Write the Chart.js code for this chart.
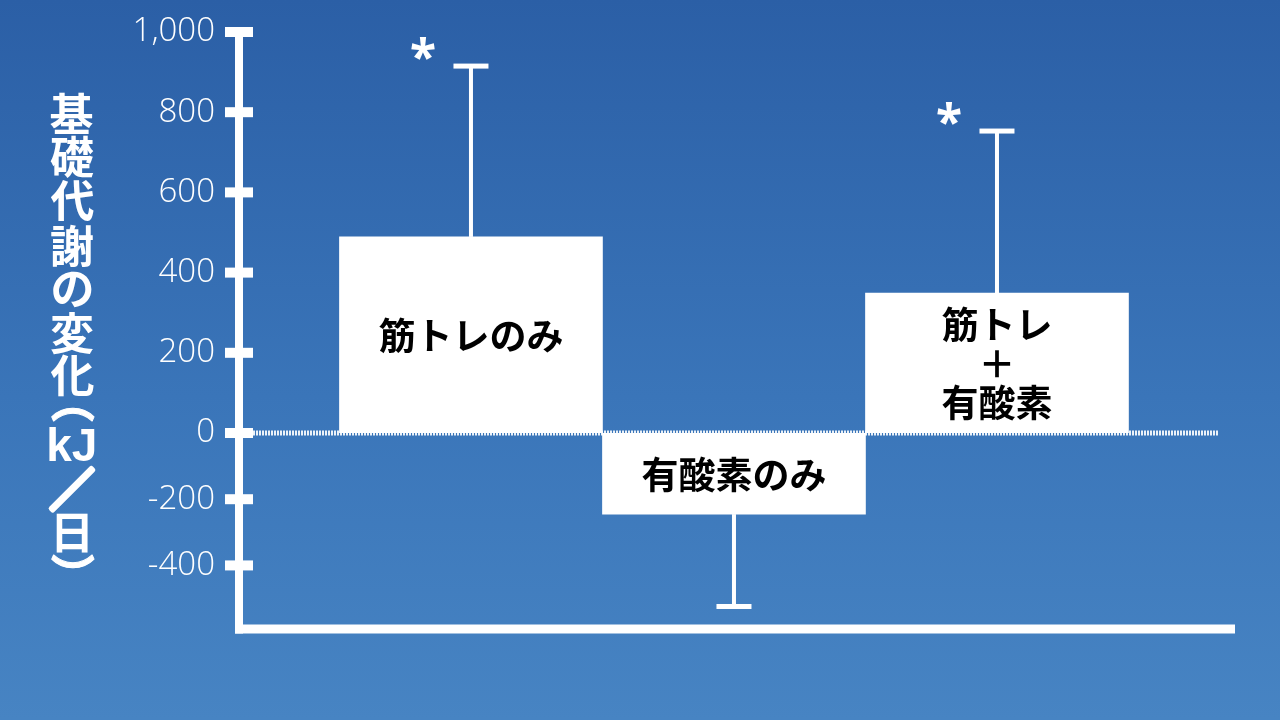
<!DOCTYPE html>
<html lang="ja">
<head>
<meta charset="utf-8">
<script src="https://cdn.jsdelivr.net/npm/chart.js@4/dist/chart.umd.min.js"></script>
<style>
  html, body { margin: 0; padding: 0; }
  body {
    width: 1280px; height: 720px; overflow: hidden;
    background: linear-gradient(180deg, #2b5fa6 0%, #3a75b9 55%, #4784c3 100%);
  }
  #wrap { position: absolute; left: 0; top: 0; width: 1280px; height: 720px; }
</style>
</head>
<body>
<div id="wrap"><canvas id="c" width="1280" height="720"></canvas></div>
<script>
// ---- data ----
const categories = ['筋トレのみ', '有酸素のみ', '筋トレ＋有酸素'];
const categoryLabelLines = [['筋トレのみ'], ['有酸素のみ'], ['筋トレ', '＋', '有酸素']];
const values = [489, -245, 349];
const errorEnds = [915, -524, 753];
const significant = [true, false, true];
const positiveTicks = [0, 200, 400, 600, 800, 1000];
const negativeTicks = [-200, -400];
const titleParts = ['基', '礎', '代', '謝', 'の', '変', '化', '（', 'kJ', '／', '日', '）'];

// ---- build datasets ----
const posData = [], negData = [];
values.forEach((v, i) => {
  if (v >= 0) posData.push({ x: i + 1, y: v });
  else negData.push({ x: i + 1, y: v });
});

const WHITE = '#ffffff';
const tickFont = { family: '"Open Sans", "Noto Sans", sans-serif', size: 33, weight: '300' };

function drawCentered(ctx, text, cx, cy, rotate, stroke) {
  ctx.save();
  ctx.translate(cx, cy);
  if (rotate) ctx.rotate(Math.PI / 2);
  ctx.textAlign = 'left';
  ctx.textBaseline = 'alphabetic';
  const m = ctx.measureText(text);
  const w = m.actualBoundingBoxLeft + m.actualBoundingBoxRight;
  const h = m.actualBoundingBoxAscent + m.actualBoundingBoxDescent;
  const x = -w / 2 + m.actualBoundingBoxLeft;
  const y = h / 2 - m.actualBoundingBoxDescent;
  if (stroke) {
    ctx.lineWidth = stroke;
    ctx.lineJoin = 'round';
    ctx.strokeText(text, x, y);
  }
  ctx.fillText(text, x, y);
  ctx.restore();
}

const fitY = s => { s.width = 239; s.paddingTop = 0; s.paddingBottom = 0; };

const decor = {
  id: 'decor',
  beforeDatasetsDraw(chart) {
    const ctx = chart.ctx, ca = chart.chartArea;
    const yPos = chart.scales.yPos;
    const y0 = yPos.getPixelForValue(0);
    ctx.save();
    ctx.strokeStyle = 'rgba(255,255,255,0.9)';
    ctx.lineWidth = 5;
    ctx.setLineDash([2, 1]);
    ctx.beginPath();
    ctx.moveTo(ca.left + 14, y0);
    ctx.lineTo(ca.right - 17, y0);
    ctx.stroke();
    ctx.restore();
  },
  afterDatasetsDraw(chart) {
    const ctx = chart.ctx, ca = chart.chartArea;
    const xs = chart.scales.x, yPos = chart.scales.yPos, yNeg = chart.scales.yNeg;
    const yPix = v => (v >= 0 ? yPos.getPixelForValue(v) : yNeg.getPixelForValue(v));
    ctx.save();
    ctx.fillStyle = WHITE;
    ctx.strokeStyle = WHITE;
    // error bars
    values.forEach((v, i) => {
      const cx = xs.getPixelForValue(i + 1);
      const yb = yPix(v), ye = yPix(errorEnds[i]);
      ctx.fillRect(cx - 2, Math.min(yb, ye), 4, Math.abs(ye - yb));
      ctx.fillRect(cx - 17.5, ye - 2.5, 35, 5);
      if (significant[i]) {
        ctx.font = 'bold 48px "Noto Sans", "DejaVu Sans", sans-serif';
        drawCentered(ctx, '*', cx - 48, ye - 18, false, 0);
      }
    });
    // axis lines
    const axisX = ca.left;
    const top = yPos.getPixelForValue(positiveTicks[positiveTicks.length - 1]);
    ctx.fillRect(axisX - 4, top - 5, 8, ca.bottom + 4.5 - (top - 5));
    ctx.fillRect(axisX - 4, ca.bottom - 4.5, ca.right - axisX + 4, 9);
    // tick marks
    positiveTicks.forEach(t => ctx.fillRect(axisX - 14, yPos.getPixelForValue(t) - 5, 28, 10));
    negativeTicks.forEach(t => ctx.fillRect(axisX - 14, yNeg.getPixelForValue(t) - 5, 28, 10));
    // bar labels
    ctx.fillStyle = '#000000';
    ctx.font = 'bold 37px "Noto Sans CJK JP", sans-serif';
    ctx.textAlign = 'center';
    ctx.textBaseline = 'middle';
    values.forEach((v, i) => {
      const cx = xs.getPixelForValue(i + 1);
      const cy = (yPix(0) + yPix(v)) / 2;
      const lines = categoryLabelLines[i];
      const lh = 39;
      lines.forEach((ln, k) => {
        ctx.fillText(ln, cx, cy + (k - (lines.length - 1) / 2) * lh + 1);
      });
    });
    // vertical y title
    ctx.fillStyle = WHITE;
    ctx.strokeStyle = WHITE;
    const tx = 72;
    const centers = [113, 157, 201, 245, 289, 333, 375, 415, 444, 489, 533, 561];
    titleParts.forEach((p, k) => {
      if (p === 'kJ') {
        ctx.font = 'bold 46px "Liberation Sans", Arial, sans-serif';
        drawCentered(ctx, p, tx, centers[k], false, 0);
      } else if (p === '（' || p === '）') {
        ctx.font = 'bold 44px "Noto Sans CJK JP", sans-serif';
        drawCentered(ctx, p, tx, centers[k], true, 1);
      } else if (p === '／') {
        ctx.font = 'bold 44px "Noto Sans CJK JP", sans-serif';
        drawCentered(ctx, p, tx, centers[k], false, 5);
      } else {
        ctx.font = 'bold 44px "Noto Sans CJK JP", sans-serif';
        drawCentered(ctx, p, tx, centers[k], false, 0);
      }
    });
    ctx.restore();
  }
};

new Chart(document.getElementById('c'), {
  type: 'bar',
  data: {
    datasets: [
      { label: 'pos', data: posData, yAxisID: 'yPos', backgroundColor: WHITE, borderWidth: 0,
        grouped: false, barPercentage: 1, categoryPercentage: 1 },
      { label: 'neg', data: negData, yAxisID: 'yNeg', backgroundColor: WHITE, borderWidth: 0,
        grouped: false, barPercentage: 1, categoryPercentage: 1 }
    ]
  },
  options: {
    responsive: false,
    animation: false,
    devicePixelRatio: 1,
    layout: { padding: { left: 0, right: 45, top: 32, bottom: 91 } },
    plugins: { legend: { display: false }, tooltip: { enabled: false } },
    scales: {
      x: { type: 'linear', display: false, offset: false, min: 0.118, max: 3.905,
           grid: { offset: false },
           afterBuildTicks: s => { s.ticks = categories.map((c, i) => ({ value: i + 1 })); } },
      yPos: {
        type: 'linear', position: 'left', stack: 'v', stackWeight: 401, weight: 2,
        min: 0, max: 1000,
        afterBuildTicks: s => { s.ticks = positiveTicks.map(v => ({ value: v })); },
        afterFit: fitY,
        grid: { display: false, drawTicks: false },
        border: { display: false },
        ticks: { color: WHITE, font: tickFont, padding: 24, autoSkip: false,
                 callback: v => Number(v).toLocaleString('en-US') }
      },
      yNeg: {
        type: 'linear', position: 'left', stack: 'v', stackWeight: 196, weight: 1,
        min: -592, max: 0,
        afterBuildTicks: s => { s.ticks = negativeTicks.map(v => ({ value: v })); },
        afterFit: fitY,
        grid: { display: false, drawTicks: false },
        border: { display: false },
        ticks: { color: WHITE, font: tickFont, padding: 24, autoSkip: false,
                 callback: v => String(v) }
      }
    }
  },
  plugins: [decor]
});
</script>
</body>
</html>
